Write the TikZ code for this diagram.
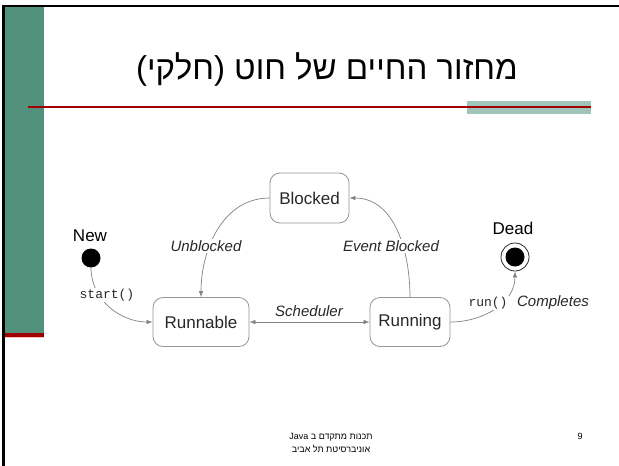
\documentclass[tikz,border=0pt]{standalone}
\usepackage{fontspec}
\setmainfont{Liberation Sans}
\setmonofont{Liberation Mono}
\newfontfamily\hebfont[Script=Hebrew]{Liberation Sans}
\TeXXeTstate=1
\usetikzlibrary{arrows.meta}
\definecolor{slidegreen}{RGB}{82,145,124}
\definecolor{lightgreen}{RGB}{158,197,183}
\definecolor{darkred}{RGB}{160,0,0}
\definecolor{boxgray}{RGB}{150,150,150}
\definecolor{edgegray}{RGB}{130,130,130}
\definecolor{textgray}{RGB}{40,40,40}
\begin{document}
\begin{tikzpicture}[x=1pt,y=-1pt,
  state/.style={draw=boxgray, rounded corners=10pt, fill=white, inner sep=0pt,
    font=\fontsize{17}{20}\selectfont, text=textgray, line width=0.8pt},
  trans/.style={draw=edgegray, line width=0.7pt, -{Latex[length=6pt,width=4.5pt]}},
  lbl/.style={font=\fontsize{15}{18}\selectfont\itshape, text=textgray, fill=white, inner sep=1pt},
  code/.style={font=\ttfamily\fontsize{13}{15}\selectfont, text=textgray, fill=white, inner sep=1pt},
  caption/.style={font=\fontsize{17}{20}\selectfont, text=black, inner sep=0pt},
  foot/.style={font=\hebfont\fontsize{9}{11}\selectfont, text=black, inner sep=0pt}]
\useasboundingbox (0,0) rectangle (619,466);
\fill[white] (0,0) rectangle (619,466);
% slide decoration
\fill[slidegreen] (4,7) rectangle (44,333);
\fill[darkred] (4,333) rectangle (44,336.5);
\fill[red!25] (4,336.5) rectangle (44,338);
\fill[black] (2,5) rectangle (619,7.3);
\fill[black] (2,5) rectangle (4.5,466);
\fill[lightgreen] (467,101) rectangle (591,113.5);
\draw[darkred, line width=1.3pt] (28,107) -- (591,107);
% title
\node[font=\hebfont\fontsize{33}{37}\selectfont, inner sep=0pt] (title) at (327,70)
  {\beginR מחזור החיים של חוט (חלקי)\endR};
% states
\node[state, minimum width=79pt, minimum height=50pt] (blocked) at (309.5,198) {Blocked};
\node[state, minimum width=96pt, minimum height=49pt] (runnable) at (201,322) {Runnable};
\node[state, minimum width=80pt, minimum height=49pt] (running) at (410,322) {Running};
\node[circle, fill=black, minimum size=19pt, inner sep=0pt] (new) at (91,258) {};
\node[circle, draw=textgray, line width=0.8pt, minimum size=28pt, inner sep=0pt] (dead) at (515,257) {};
\node[circle, fill=black, minimum size=19pt, inner sep=0pt] (deadcore) at (dead.center) {};
\node[caption] (newlbl) at (90,236) {New};
\node[caption] (deadlbl) at (513,228) {Dead};
% transitions
\draw[trans] (blocked.west) to[out=180,in=90] (runnable.north);
\draw[trans] (running.north) to[out=90,in=0] (blocked.east);
\draw[trans, {Latex[length=6pt,width=4.5pt]}-{Latex[length=6pt,width=4.5pt]}] (runnable.east) -- (running.west);
\draw[trans] (new.south) to[out=-90,in=180] (runnable.west);
\draw[trans] (running.east) to[out=0,in=-90] (dead.south);
% labels
\node[lbl] (l1) at (206,246) {Unblocked};
\node[lbl] (l2) at (391,246) {Event Blocked};
\node[lbl] (l3) at (309,311) {Scheduler};
\node[code] (l4) at (107,295) {start()};
\node[code] (l5) at (488,303) {run()};
\node[lbl] (l6) at (553,303) {Completes};
% footer
\node[foot] (f1) at (331,437) {\beginR תכנות מתקדם ב \beginL Java\endL\endR};
\node[foot] (f2) at (331,449) {\beginR אוניברסיטת תל אביב\endR};
\node[font=\fontsize{9}{11}\selectfont, inner sep=0pt] (pg) at (580,436) {9};
\end{tikzpicture}
\end{document}
